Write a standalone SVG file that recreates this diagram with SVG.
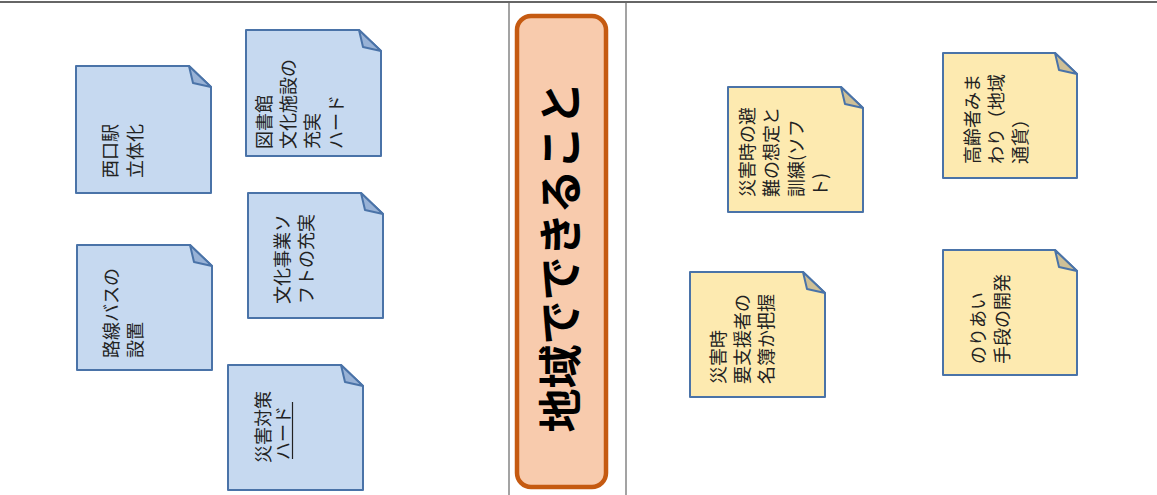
<svg xmlns="http://www.w3.org/2000/svg" width="1157" height="495" viewBox="0 0 1157 495">
<style>
.note{stroke:#4a73a8;stroke-width:2;stroke-linejoin:round}
.blue{fill:#c6d9f0}
.blueF{fill:#98b2d6}
.yel{fill:#fdeab0}
.yelF{fill:#cfc096}
.t{font-family:"Noto Sans CJK JP","Noto Sans",sans-serif;font-size:18px;fill:#222}
.c{font-family:"Noto Sans CJK JP","Noto Sans",sans-serif;font-size:44px;font-weight:bold;fill:#000}
.frame{stroke:#666;fill:none}
</style>
<rect width="1157" height="495" fill="#fff"/>
<g id="frame">
<line class="frame" x1="0" y1="2" x2="1157" y2="2" stroke-width="2"/>
<line class="frame" x1="509" y1="2" x2="509" y2="495" stroke-width="1.2"/>
<line class="frame" x1="626" y1="2" x2="626" y2="495" stroke-width="1.2"/>
</g>
<g id="connectors"></g>
<g id="center">
<rect x="517" y="16" width="89" height="471" rx="14" fill="#f8cbad" stroke="#c55a11" stroke-width="4.5"/>
<text class="c" text-anchor="middle" transform="translate(577,257) rotate(-90)">地域でできること</text>
</g>
<g id="n1">
<path class="note blue" d="M76,66 H189 L211,87 V193 H76 Z"/>
<path class="note blueF" d="M189,66 L193,83 L211,87 Z"/>
<text class="t" transform="translate(117,178) rotate(-90)">西口駅</text>
<text class="t" transform="translate(142,178) rotate(-90)">立体化</text>
</g>
<g id="n2">
<path class="note blue" d="M246,30 H359 L381,51 V156 H246 Z"/>
<path class="note blueF" d="M359,30 L363,47 L381,51 Z"/>
<text class="t" transform="translate(270.5,149) rotate(-90)">図書館</text>
<text class="t" transform="translate(295,149) rotate(-90)">文化施設の</text>
<text class="t" transform="translate(318.5,149) rotate(-90)">充実</text>
<text class="t" transform="translate(343,149) rotate(-90)">ハード</text>
</g>
<g id="n3">
<path class="note blue" d="M248,193 H361 L383,214 V318 H248 Z"/>
<path class="note blueF" d="M361,193 L365,210 L383,214 Z"/>
<text class="t" transform="translate(289,304) rotate(-90)">文化事業ソ</text>
<text class="t" transform="translate(313,304) rotate(-90)">フトの充実</text>
</g>
<g id="n4">
<path class="note blue" d="M77,245 H190 L212,266 V370 H77 Z"/>
<path class="note blueF" d="M190,245 L194,262 L212,266 Z"/>
<text class="t" transform="translate(117.5,358) rotate(-90)">路線バスの</text>
<text class="t" transform="translate(141.5,358) rotate(-90)">設置</text>
</g>
<g id="n5">
<path class="note blue" d="M228,365 H341 L363,386 V490 H228 Z"/>
<path class="note blueF" d="M341,365 L345,382 L363,386 Z"/>
<text class="t" transform="translate(269.5,463) rotate(-90)">災害対策</text>
<text class="t" transform="translate(290,460) rotate(-90)">ハード</text>
<line x1="292.5" y1="459" x2="292.5" y2="402" stroke="#222" stroke-width="1.2"/>
</g>
<g id="n7">
<path class="note yel" d="M728,87 H841 L863,108 V212 H728 Z"/>
<path class="note yelF" d="M841,87 L845,104 L863,108 Z"/>
<text class="t" transform="translate(753.5,197) rotate(-90)">災害時の避</text>
<text class="t" transform="translate(778,197) rotate(-90)">難の想定と</text>
<text class="t" transform="translate(803,197) rotate(-90)">訓練(ソフ</text>
<text class="t" transform="translate(827,197) rotate(-90)">ト)</text>
</g>
<g id="n8">
<path class="note yel" d="M690,272 H803 L825,293 V397 H690 Z"/>
<path class="note yelF" d="M803,272 L807,289 L825,293 Z"/>
<text class="t" transform="translate(724.5,384) rotate(-90)">災害時</text>
<text class="t" transform="translate(748.5,384) rotate(-90)">要支援者の</text>
<text class="t" transform="translate(772.5,384) rotate(-90)">名簿か把握</text>
</g>
<g id="n9">
<path class="note yel" d="M943,53 H1055 L1077,74 V178 H943 Z"/>
<path class="note yelF" d="M1055,53 L1059,70 L1077,74 Z"/>
<text class="t" transform="translate(979,164) rotate(-90)">高齢者みま</text>
<text class="t" transform="translate(1003,164) rotate(-90)">わり（地域</text>
<text class="t" transform="translate(1027,164) rotate(-90)">通貨）</text>
</g>
<g id="n10">
<path class="note yel" d="M943,250 H1055 L1077,271 V375 H943 Z"/>
<path class="note yelF" d="M1055,250 L1059,267 L1077,271 Z"/>
<text class="t" transform="translate(984.5,364) rotate(-90)">のりあい</text>
<text class="t" transform="translate(1008.5,364) rotate(-90)">手段の開発</text>
</g>
</svg>
